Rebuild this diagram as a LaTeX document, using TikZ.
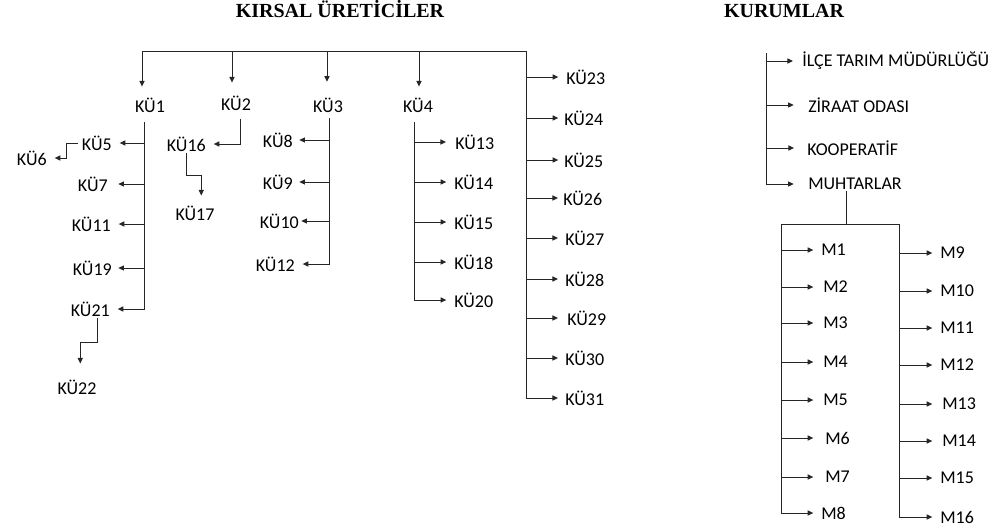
\documentclass[tikz,border=0pt]{standalone}
\usepackage{fontspec}
\usetikzlibrary{arrows.meta}
\newfontfamily\calib{Carlito}
\newfontfamily\tnr{Liberation Serif}

\tikzset{
  lbl/.style={font=\calib\fontsize{13.5}{16}\selectfont, inner sep=0.75pt},
  ttl/.style={font=\tnr\bfseries\fontsize{15}{18}\selectfont, inner sep=0.75pt, anchor=base},
  ln/.style={line width=0.75pt, color=black!85},
  arr/.style={ln, -{Triangle[length=4.2pt,width=3.8pt]}, shorten >=5pt},
}

\begin{document}
\begin{tikzpicture}[x=0.75pt,y=0.75pt,yscale=-1,xscale=1]
    \useasboundingbox (0,0) rectangle (1000,529);

    % Text Node
    \node [ttl] (kirsal) at (340,17) {KIRSAL ÜRETİCİLER};
    % Text Node
    \node [ttl] (kurum) at (784,17) {KURUMLAR};

    %Shape: top bar and joints
    \coordinate (d1) at (142,51);
    \coordinate (d2) at (232,51);
    \coordinate (d3) at (327,51);
    \coordinate (d4) at (419,51);
    \coordinate (br) at (526,51);
    \coordinate (t1) at (144,122);
    \coordinate (t2) at (240,119);
    \coordinate (t3) at (329,118);
    \coordinate (t4) at (414,122);

    % Text Node
    \node [lbl] (k1) at (150,105) {KÜ1};
    \node [lbl] (k2) at (236,103) {KÜ2};
    \node [lbl] (k3) at (328,105) {KÜ3};
    \node [lbl] (k4) at (418,105) {KÜ4};
    % Text Node
    \node [lbl, anchor=east] (k5) at (113,143) {KÜ5};
    \node [lbl, anchor=east] (k6) at (48,158) {KÜ6};
    \node [lbl, anchor=east] (k7) at (109,184) {KÜ7};
    \node [lbl, anchor=east] (k11) at (112,224) {KÜ11};
    \node [lbl, anchor=east] (k19) at (113,268) {KÜ19};
    \node [lbl, anchor=east] (k21) at (111,309) {KÜ21};
    \node [lbl] (k22) at (77,387) {KÜ22};
    % Text Node
    \node [lbl, anchor=east] (k16) at (207,144) {KÜ16};
    \node [lbl] (k17) at (195,213) {KÜ17};
    % Text Node
    \node [lbl, anchor=east] (k8) at (294,140) {KÜ8};
    \node [lbl, anchor=east] (k9) at (294,182) {KÜ9};
    \node [lbl, anchor=east] (k10) at (300,221) {KÜ10};
    \node [lbl, anchor=east] (k12) at (296,264) {KÜ12};
    % Text Node
    \node [lbl, anchor=west] (k13) at (454,142) {KÜ13};
    \node [lbl, anchor=west] (k14) at (453,182) {KÜ14};
    \node [lbl, anchor=west] (k15) at (453,222) {KÜ15};
    \node [lbl, anchor=west] (k18) at (453,262) {KÜ18};
    \node [lbl, anchor=west] (k20) at (453,300) {KÜ20};
    % Text Node
    \node [lbl, anchor=west] (k23) at (565,77) {KÜ23};
    \node [lbl, anchor=west] (k24) at (563,118) {KÜ24};
    \node [lbl, anchor=west] (k25) at (563,160) {KÜ25};
    \node [lbl, anchor=west] (k26) at (562,198) {KÜ26};
    \node [lbl, anchor=west] (k27) at (564,238) {KÜ27};
    \node [lbl, anchor=west] (k28) at (564,279) {KÜ28};
    \node [lbl, anchor=west] (k29) at (566,318) {KÜ29};
    \node [lbl, anchor=west] (k30) at (564,358) {KÜ30};
    \node [lbl, anchor=west] (k31) at (564,398) {KÜ31};

    %Straight Lines: bar and arrows down
    \draw [ln] (d1) -- (br);
    \draw [arr, shorten >=7.4pt] (d1) -- (d1 |- k1.north);
    \draw [arr, shorten >=8.9pt] (d2) -- (d2 |- k2.north);
    \draw [arr, shorten >=11pt] (d3) -- (d3 |- k3.north);
    \draw [arr, shorten >=7.4pt] (d4) -- (d4 |- k4.north);

    %Straight Lines: KÜ1
    \draw [arr] (t1 |- k5) -- (k5);
    \draw [arr, shorten >=7pt] (t1 |- k7) -- (k7);
    \draw [arr] (t1 |- k11) -- (k11);
    \draw [arr, shorten >=4pt] (t1 |- k19) -- (k19);
    \draw [arr] (t1) |- (k21);
    \draw [arr] ([xshift=-2pt]k5.west) -- ++(-12,0) |- (k6);
    \draw [arr, shorten >=0pt] ([xshift=5.25pt]k21.south) |- ++(-17,25) -- ++(0,21);

    %Straight Lines: KÜ2
    \draw [arr] (t2) |- (k16);
    \draw [arr, shorten >=0pt] (k16.south) |- ++(15,23) -- ++(0,20);

    %Straight Lines: KÜ3
    \draw [arr, shorten >=4pt] (t3 |- k8) -- (k8);
    \draw [arr, shorten >=4pt] (t3 |- k9) -- (k9);
    \draw [arr, shorten >=1pt] (t3 |- k10) -- (k10);
    \draw [arr] (t3) |- (k12);

    %Straight Lines: KÜ4
    \draw [arr, shorten >=6pt] (t4 |- k13) -- (k13);
    \draw [arr] (t4 |- k14) -- (k14);
    \draw [arr] (t4 |- k15) -- (k15);
    \draw [arr] (t4 |- k18) -- (k18);
    \draw [arr] (t4) |- (k20);

    %Straight Lines: right trunk
    \draw [arr, shorten >=5pt] (br |- k23) -- (k23);
    \draw [arr, shorten >=3.5pt] (br |- k24) -- (k24);
    \draw [arr, shorten >=3.5pt] (br |- k25) -- (k25);
    \draw [arr, shorten >=3pt] (br |- k26) -- (k26);
    \draw [arr, shorten >=4.5pt] (br |- k27) -- (k27);
    \draw [arr, shorten >=4.5pt] (br |- k28) -- (k28);
    \draw [arr, shorten >=6pt] (br |- k29) -- (k29);
    \draw [arr, shorten >=4.5pt] (br |- k30) -- (k30);
    \draw [arr, shorten >=4.5pt] (br) |- (k31);

    % Text Node
    \node [lbl, anchor=west] (ilce) at (801,61) {İLÇE TARIM MÜDÜRLÜĞÜ};
    \node [lbl, anchor=west] (ziraat) at (807,105) {ZİRAAT ODASI};
    \node [lbl, anchor=west] (koop) at (806,148) {KOOPERATİF};
    \node [lbl, anchor=west] (muh) at (807,184) {MUHTARLAR};

    \coordinate (kt) at (766,53);
    \coordinate (mb) at (846,224);
    \coordinate (ml) at (781,224);
    \coordinate (mr) at (899,224);

    % Text Node
    \node [lbl, anchor=west] (m1) at (820,250) {M1};
    \node [lbl, anchor=west] (m2) at (822,287) {M2};
    \node [lbl, anchor=west] (m3) at (822,323) {M3};
    \node [lbl, anchor=west] (m4) at (822,362) {M4};
    \node [lbl, anchor=west] (m5) at (822,400) {M5};
    \node [lbl, anchor=west] (m6) at (824,438) {M6};
    \node [lbl, anchor=west] (m7) at (824,477) {M7};
    \node [lbl, anchor=west] (m8) at (820,513) {M8};
    % Text Node
    \node [lbl, anchor=west] (m9) at (939,253) {M9};
    \node [lbl, anchor=west] (m10) at (939,291) {M10};
    \node [lbl, anchor=west] (m11) at (939,328) {M11};
    \node [lbl, anchor=west] (m12) at (939,365) {M12};
    \node [lbl, anchor=west] (m13) at (941,404) {M13};
    \node [lbl, anchor=west] (m14) at (941,441) {M14};
    \node [lbl, anchor=west] (m15) at (939,478) {M15};
    \node [lbl, anchor=west] (m16) at (939,517) {M16};

    %Straight Lines: KURUMLAR
    \draw [arr, shorten >=6pt] (kt |- ilce) -- (ilce);
    \draw [arr, shorten >=10pt] (kt |- ziraat) -- (ziraat);
    \draw [arr, shorten >=9pt] (kt |- koop) -- (koop);
    \draw [arr, shorten >=10pt] (kt) |- (muh);
    \draw [ln] (mb |- muh.south) -- (mb);
    \draw [ln] (ml) -- (mr);

    %Straight Lines: M left
    \draw [arr] (ml |- m1) -- (m1);
    \draw [arr, shorten >=6.5pt] (ml |- m2) -- (m2);
    \draw [arr, shorten >=6.5pt] (ml |- m3) -- (m3);
    \draw [arr, shorten >=6.5pt] (ml |- m4) -- (m4);
    \draw [arr, shorten >=6.5pt] (ml |- m5) -- (m5);
    \draw [arr, shorten >=8pt] (ml |- m6) -- (m6);
    \draw [arr, shorten >=8pt] (ml |- m7) -- (m7);
    \draw [arr] (ml) |- (m8);

    %Straight Lines: M right
    \draw [arr] (mr |- m9) -- (m9);
    \draw [arr] (mr |- m10) -- (m10);
    \draw [arr] (mr |- m11) -- (m11);
    \draw [arr] (mr |- m12) -- (m12);
    \draw [arr, shorten >=6.5pt] (mr |- m13) -- (m13);
    \draw [arr, shorten >=6.5pt] (mr |- m14) -- (m14);
    \draw [arr] (mr |- m15) -- (m15);
    \draw [arr] (mr) |- (m16);

\end{tikzpicture}
\end{document}
